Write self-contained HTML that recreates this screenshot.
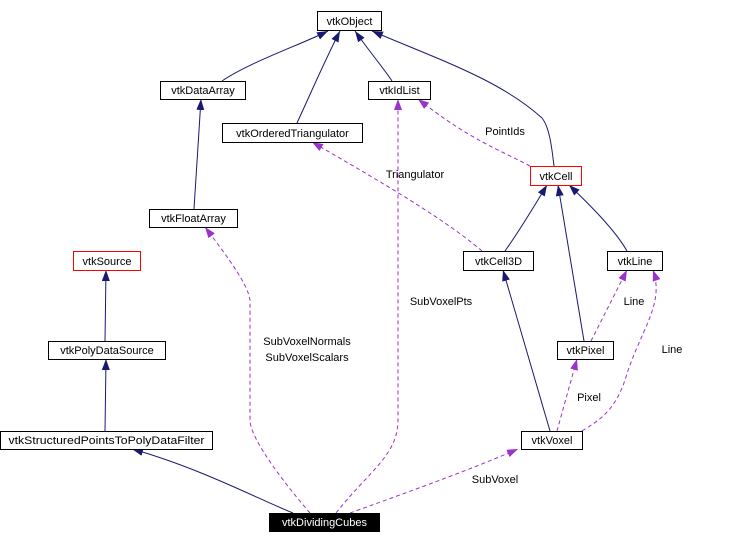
<!DOCTYPE html>
<html><head><meta charset="utf-8"><style>
html,body{margin:0;padding:0;background:#fff;}
svg{display:block;}
text{font-family:"Liberation Sans",sans-serif;font-size:11px;}
</style></head><body>
<svg width="744" height="544" viewBox="0 0 744 544" xmlns="http://www.w3.org/2000/svg">
<defs>
<marker id="an" markerWidth="11" markerHeight="8" refX="11" refY="4" orient="auto" markerUnits="userSpaceOnUse"><path d="M0,0 L11,4 L0,8 z" fill="#191970"/></marker>
<marker id="ap" markerWidth="11" markerHeight="8" refX="11" refY="4" orient="auto" markerUnits="userSpaceOnUse"><path d="M0,0 L11,4 L0,8 z" fill="#9a32cd"/></marker>
</defs>
<g fill="none" stroke="#191970" stroke-width="1" marker-end="url(#an)">
<path d="M222,81 C250,62 300,45 328,31"/>
<path d="M297,123 C310,95 325,60 340,31"/>
<path d="M392,81 C385,70 372,55 355,31"/>
<path d="M554,166 C552,150 550,128 542,118 C500,80 440,60 372,31"/>
<path d="M194,209 L201,99"/>
<path d="M505,251 C520,230 535,205 547,185"/>
<path d="M584,341 L558,185"/>
<path d="M627,251 C615,230 590,205 569,185"/>
<path d="M105,341 L106,270"/>
<path d="M105,431 L106,359"/>
<path d="M293,513 C260,500 200,468 132,449"/>
<path d="M550,431 L503,270"/>
</g>
<g fill="none" stroke="#9a32cd" stroke-width="1" stroke-dasharray="4,3" marker-end="url(#ap)">
<path d="M310,513 C290,490 250,440 250,420 L250,300 C248,285 230,260 205,227"/>
<path d="M336,513 C370,470 398,455 398,420 L398,99"/>
<path d="M350,513 C400,495 470,470 518,449"/>
<path d="M557,431 L577,359"/>
<path d="M582,431 C600,420 615,410 625,380 C640,330 665,305 653,270"/>
<path d="M591,341 L627,270"/>
<path d="M482,251 C440,215 360,170 312,142"/>
<path d="M530,166 C500,150 470,140 418,99"/>
</g>
<g stroke="#000" stroke-width="1" fill="#fff">
<rect x="317.5" y="11.5" width="64" height="19"/>
<rect x="160.5" y="81.5" width="85" height="18"/>
<rect x="368.5" y="81.5" width="62" height="18"/>
<rect x="222.5" y="123.5" width="140" height="19"/>
<rect x="530.5" y="166.5" width="51" height="19" stroke="#f00"/>
<rect x="149.5" y="209.5" width="88" height="18"/>
<rect x="73.5" y="251.5" width="67" height="19" stroke="#f00"/>
<rect x="463.5" y="251.5" width="70" height="19"/>
<rect x="607.5" y="251.5" width="55" height="19"/>
<rect x="48.5" y="341.5" width="117" height="18"/>
<rect x="557.5" y="341.5" width="56" height="18"/>
<rect x="0.5" y="431.5" width="212" height="18"/>
<rect x="521.5" y="431.5" width="61" height="18"/>
<rect x="269.5" y="513.5" width="110" height="18" fill="#000"/>
</g>
<g fill="#000" text-anchor="middle">
<text x="349.5" y="25">vtkObject</text>
<text x="203" y="94">vtkDataArray</text>
<text x="399.5" y="94">vtkIdList</text>
<text x="292.5" y="137">vtkOrderedTriangulator</text>
<text x="556" y="180">vtkCell</text>
<text x="193.5" y="222">vtkFloatArray</text>
<text x="107" y="265">vtkSource</text>
<text x="498.5" y="265">vtkCell3D</text>
<text x="635" y="265">vtkLine</text>
<text x="107" y="354">vtkPolyDataSource</text>
<text x="585.5" y="354">vtkPixel</text>
<text x="106.5" y="444" textLength="196" lengthAdjust="spacingAndGlyphs">vtkStructuredPointsToPolyDataFilter</text>
<text x="552" y="444">vtkVoxel</text>
<text x="324.5" y="526" fill="#fff">vtkDividingCubes</text>
<text x="505" y="135">PointIds</text>
<text x="415" y="178">Triangulator</text>
<text x="441" y="305">SubVoxelPts</text>
<text x="307" y="345">SubVoxelNormals</text>
<text x="307" y="361">SubVoxelScalars</text>
<text x="634" y="305">Line</text>
<text x="672" y="353">Line</text>
<text x="589" y="401">Pixel</text>
<text x="495" y="483">SubVoxel</text>
</g>
</svg>
</body></html>
